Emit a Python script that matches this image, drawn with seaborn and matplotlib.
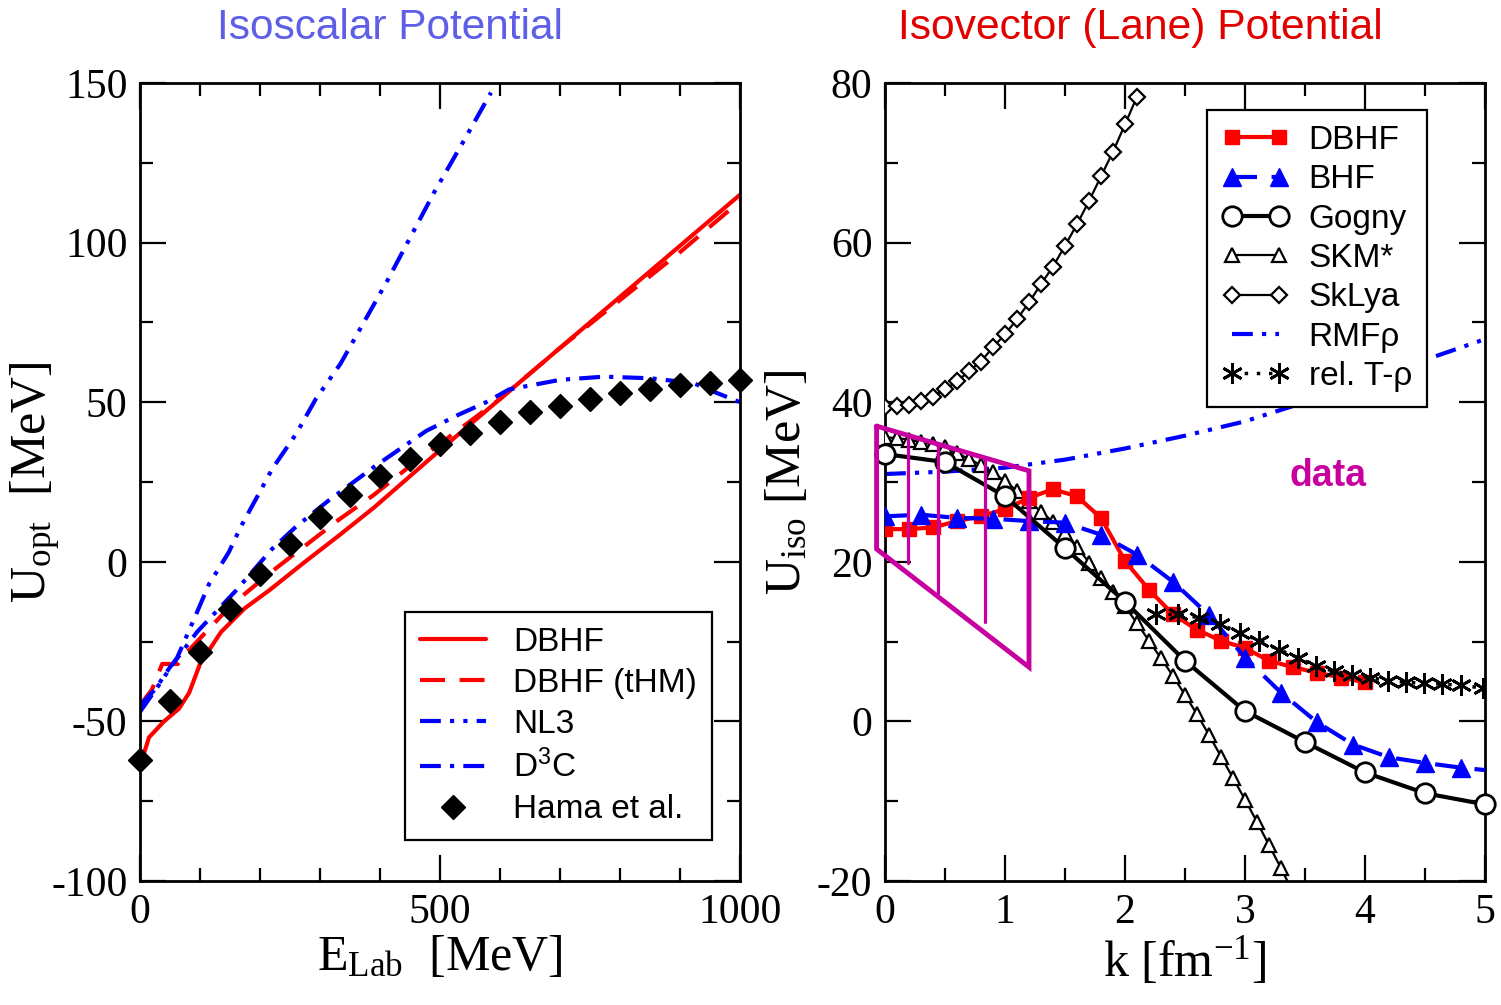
import matplotlib
matplotlib.use("Agg")
import matplotlib.pyplot as plt
import seaborn as sns
from matplotlib.ticker import MultipleLocator

# ---------------- Left panel: isoscalar potential ----------------
dbhf_E = [0, 15, 40, 65, 82, 100, 135, 175, 215, 275, 330, 390, 445, 500, 600, 700, 800, 900, 1000]
dbhf_U = [-64, -55, -50, -46, -41, -32, -22, -14.5, -9, 0, 8, 17, 26, 35, 51, 67, 83, 99, 115]

thm_E = [0, 20, 37, 50, 63, 80, 100, 135, 175, 220, 275, 330, 390, 450, 500, 550, 600, 700, 800, 900, 1000]
thm_U = [-45, -40, -32, -32, -32, -28, -24, -17, -10, -3, 5, 13, 21, 30, 37, 44, 51, 67, 82, 97, 113]

nl3_E = [0, 30, 62, 90, 115, 148, 168, 200, 220, 260, 293, 334, 412, 491, 540, 585]
nl3_U = [-47, -39, -30, -18, -7, 3, 11, 22, 29, 40, 51, 62, 88, 116, 132, 147]

d3c_E = [0, 25, 50, 63, 95, 130, 160, 220, 260, 313, 392, 477, 530, 577, 615, 700, 773, 850, 922, 960, 1000]
d3c_U = [-45, -40, -33, -30, -22, -15, -9, 4, 11, 19, 30, 41, 46, 50, 54, 57, 58, 57.5, 56, 53, 50]

hama_E = [0, 50, 100, 150, 200, 250, 300, 350, 400, 450, 500, 550, 600, 650, 700, 750, 800, 850, 900, 950, 1000]
hama_U = [-62, -43.6, -28.2, -14.7, -3.8, 5.6, 14.1, 21, 27, 32.3, 37, 40.4, 43.9, 47, 48.9, 51.1, 53, 54.2, 55.5, 56.1, 57]

# ---------------- Right panel: isovector (Lane) potential ----------------
r_dbhf_k = [0, 0.2, 0.4, 0.6, 0.8, 1.0, 1.2, 1.4, 1.6, 1.8, 2.0, 2.2, 2.4, 2.6, 2.8, 3.0, 3.2, 3.4, 3.6, 3.8, 4.0]
r_dbhf_U = [24.1, 24.1, 24.3, 25.1, 25.7, 26.6, 28.0, 29.1, 28.2, 25.5, 20.1, 16.5, 13.4, 11.5, 10.1, 9.2, 7.6, 6.8, 6.1, 5.5, 4.9]

bhf_k = [0, 0.3, 0.6, 0.9, 1.2, 1.5, 1.8, 2.1, 2.4, 2.7, 3.0, 3.3, 3.6, 3.9, 4.2, 4.5, 4.8, 5.0]
bhf_U = [25.7, 25.9, 25.5, 25.4, 25.1, 24.9, 23.4, 20.9, 17.5, 13.3, 8.0, 3.6, -0.1, -2.9, -4.5, -5.2, -5.8, -6.1]

gogny_k = [0, 0.5, 1.0, 1.5, 2.0, 2.5, 3.0, 3.5, 4.0, 4.5, 5.0]
gogny_U = [33.5, 32.5, 28.2, 21.7, 15.0, 7.6, 1.3, -2.6, -6.4, -9.0, -10.4]

skm_k = [0, 0.1, 0.2, 0.3, 0.4, 0.5, 0.6, 0.7, 0.8, 0.9, 1.0, 1.1, 1.2, 1.3, 1.4, 1.5, 1.6, 1.7,
         1.8, 1.9, 2.0, 2.1, 2.2, 2.3, 2.4, 2.5, 2.6, 2.7, 2.8, 2.9, 3.0, 3.1, 3.2, 3.3, 3.4]
skm_U = [35.6, 35.5, 35.3, 35.0, 34.7, 34.4, 33.6, 32.9, 32.1, 31.2, 30.1, 28.9, 27.6, 26.3, 25.0, 23.6, 21.9, 19.9,
         18.0, 16.2, 14.4, 12.3, 10.1, 7.9, 5.7, 3.3, 0.9, -1.7, -4.4, -7.1, -9.8, -12.6, -15.5, -18.4, -21.4]

sklya_k = [0, 0.1, 0.2, 0.3, 0.4, 0.5, 0.6, 0.7, 0.8, 0.9, 1.0, 1.1, 1.2, 1.3, 1.4, 1.5, 1.6, 1.7, 1.8, 1.9, 2.0, 2.1]
sklya_U = [39.4, 39.5, 39.7, 40.1, 40.7, 41.6, 42.6, 43.9, 45.1, 46.9, 48.5, 50.4, 52.5, 54.8, 57.0, 59.6, 62.3, 65.2, 68.3, 71.4, 74.8, 78.3]

rmf_k = [0, 0.5, 1.0, 1.5, 2.0, 2.5, 3.0, 3.5, 4.0, 4.5, 5.0]
rmf_U = [31.0, 31.3, 31.8, 32.8, 34.2, 35.8, 37.6, 40.0, 42.6, 45.3, 47.9]

trho_k = [2.26, 2.44, 2.62, 2.79, 2.96, 3.12, 3.28, 3.44, 3.59, 3.74, 3.89, 4.04, 4.19, 4.34, 4.49, 4.64, 4.80, 4.98]
trho_U = [13.4, 13.4, 13.0, 12.2, 11.1, 10.1, 9.0, 8.0, 6.9, 6.3, 5.8, 5.5, 5.1, 4.9, 4.8, 4.7, 4.5, 4.2]

# experimental band ("data")
band_k = [-0.07, 1.2, 1.2, -0.07, -0.07]
band_U = [37.0, 31.4, 6.8, 21.6, 37.0]
bar_k = [0.19, 0.44, 0.83]
bar_top = [35.9, 34.8, 33.1]
bar_bot = [19.9, 16.1, 12.4]

# ---------------- style ----------------
sns.set_theme(style="ticks")
plt.rcParams["font.family"] = ["Liberation Sans", "DejaVu Sans"]
plt.rcParams["mathtext.default"] = "regular"
plt.rcParams["axes.unicode_minus"] = False
for key in ("text.color", "axes.labelcolor", "xtick.color", "ytick.color", "axes.edgecolor"):
    plt.rcParams[key] = "black"
SERIF = ["Liberation Serif", "DejaVu Serif"]

RED = "#FF0000"
BLUE = "#0000FF"
MAG = "#C800A0"

fig = plt.figure(figsize=(15.01, 10.05), dpi=100)
W, H = 1501, 1005
axL = fig.add_axes([140 / W, 1 - 881 / H, 600 / W, 798 / H])
axR = fig.add_axes([885 / W, 1 - 881 / H, 600 / W, 798 / H])

NL3_DASH = (0, (5, 2.2, 1, 2.2, 1, 2.2))
D3C_DASH = (0, (5, 2.2, 1, 2.2))

# left panel lines
sns.lineplot(x=dbhf_E, y=dbhf_U, ax=axL, color=RED, lw=3, estimator=None, label="DBHF")
sns.lineplot(x=thm_E, y=thm_U, ax=axL, color=RED, lw=3, estimator=None, linestyle=(0, (6, 3.5)), label="DBHF (tHM)")
sns.lineplot(x=nl3_E, y=nl3_U, ax=axL, color=BLUE, lw=3, estimator=None, linestyle=NL3_DASH, label="NL3")
sns.lineplot(x=d3c_E, y=d3c_U, ax=axL, color=BLUE, lw=3, estimator=None, linestyle=D3C_DASH, label="D$^3$C")
sns.lineplot(x=hama_E, y=hama_U, ax=axL, color="black", estimator=None, linestyle="none", marker="D",
             markersize=12, markerfacecolor="black", markeredgecolor="black", markeredgewidth=1,
             clip_on=False, label="Hama et al.", zorder=5)

# right panel lines
sns.lineplot(x=r_dbhf_k, y=r_dbhf_U, ax=axR, color=RED, lw=3, estimator=None, marker="s", markersize=10,
             markerfacecolor=RED, markeredgecolor=RED, markeredgewidth=1, label="DBHF", zorder=4)
sns.lineplot(x=bhf_k, y=bhf_U, ax=axR, color=BLUE, lw=3, estimator=None, linestyle=(0, (6, 3.5)), marker="^",
             markersize=13, markerfacecolor=BLUE, markeredgecolor=BLUE, markeredgewidth=1,
             markevery=list(range(len(bhf_k) - 1)), label="BHF", zorder=4)
sns.lineplot(x=gogny_k, y=gogny_U, ax=axR, color="black", lw=3, estimator=None, marker="o", markersize=14,
             markerfacecolor="white", markeredgecolor="black", markeredgewidth=2, clip_on=False,
             label="Gogny", zorder=5)
sns.lineplot(x=skm_k, y=skm_U, ax=axR, color="black", lw=1.6, estimator=None, marker="^", markersize=10,
             markerfacecolor="white", markeredgecolor="black", markeredgewidth=1.6, label="SKM*", zorder=3)
sns.lineplot(x=sklya_k, y=sklya_U, ax=axR, color="black", lw=1.6, estimator=None, marker="D", markersize=8,
             markerfacecolor="white", markeredgecolor="black", markeredgewidth=1.6, label="SkLya", zorder=3)
sns.lineplot(x=rmf_k, y=rmf_U, ax=axR, color=BLUE, lw=3, estimator=None, linestyle=NL3_DASH,
             label="RMF\u03c1", zorder=2)
sns.lineplot(x=trho_k, y=trho_U, ax=axR, color="black", lw=2.5, estimator=None, linestyle=(0, (1, 2.5)),
             marker=(6, 2, 0), markersize=15, markeredgecolor="black", markeredgewidth=2,
             label="rel. T-\u03c1", zorder=4)

# experimental band
axR.plot(band_k, band_U, color=MAG, lw=3.5, clip_on=False, zorder=6, solid_joinstyle="miter")
for kk, t, b in zip(bar_k, bar_top, bar_bot):
    axR.plot([kk, kk], [t, b], color=MAG, lw=2.3, zorder=6)
axR.text(3.69, 30.7, "data", color=MAG, fontsize=27, fontweight="bold", ha="center", va="center")

# axes cosmetics
for ax in (axL, axR):
    for s in ax.spines.values():
        s.set_linewidth(2.0)
        s.set_color("black")
    ax.tick_params(which="both", direction="in", top=True, right=True, width=1.6, colors="black")
    ax.tick_params(which="major", length=19, pad=9, labelsize=30)
    ax.tick_params(which="minor", length=9.5)

axL.set_xlim(0, 1000)
axL.set_ylim(-100, 150)
axL.xaxis.set_major_locator(MultipleLocator(500))
axL.xaxis.set_minor_locator(MultipleLocator(100))
axL.yaxis.set_major_locator(MultipleLocator(50))
axL.yaxis.set_minor_locator(MultipleLocator(25))

axR.set_xlim(0, 5)
axR.set_ylim(-20, 80)
axR.xaxis.set_major_locator(MultipleLocator(1))
axR.xaxis.set_minor_locator(MultipleLocator(0.5))
axR.yaxis.set_major_locator(MultipleLocator(20))
axR.yaxis.set_minor_locator(MultipleLocator(10))

for ax in (axL, axR):
    for lab in ax.get_xticklabels() + ax.get_yticklabels():
        lab.set_family(SERIF)
        lab.set_fontsize(30)
        lab.set_color("black")

axL.set_xlabel("E$_{Lab}$  [MeV]", fontsize=36, family=SERIF, labelpad=2, color="black")
axL.set_ylabel("U$_{opt}$  [MeV]", fontsize=36, family=SERIF, color="black")
axR.set_xlabel("k [fm$^{-1}$]", fontsize=36, family=SERIF, labelpad=2, color="black")
axR.set_ylabel("U$_{iso}$ [MeV]", fontsize=36, family=SERIF, color="black")
axL.yaxis.set_label_coords(-0.128, 0.5)
axR.yaxis.set_label_coords(-0.123, 0.5)

# legends
legL = axL.legend(loc="lower right", bbox_to_anchor=(0.953, 0.051), borderaxespad=0, fontsize=24,
                  numpoints=1, handlelength=2.0, handletextpad=0.8, labelspacing=0.3, borderpad=0.45,
                  fancybox=False, framealpha=1, edgecolor="black")
legL.get_frame().set_linewidth(1.6)
legR = axR.legend(loc="upper right", bbox_to_anchor=(0.903, 0.966), borderaxespad=0, fontsize=24,
                  numpoints=2, handlelength=2.0, handletextpad=0.6, labelspacing=0.25, borderpad=0.45,
                  fancybox=False, framealpha=1, edgecolor="black")
legR.get_frame().set_linewidth(1.6)
legR.set_zorder(10)
for leg in (legL, legR):
    for t in leg.get_texts():
        t.set_color("black")

# titles
fig.text(390 / W, 1 - 28 / H, "Isoscalar Potential", color="#5E5EE6", fontsize=30.5, ha="center", va="center")
fig.text(1140 / W, 1 - 28 / H, "Isovector (Lane) Potential", color="#E00000", fontsize=30.7, ha="center", va="center")

fig.savefig("out.png", dpi=100)
